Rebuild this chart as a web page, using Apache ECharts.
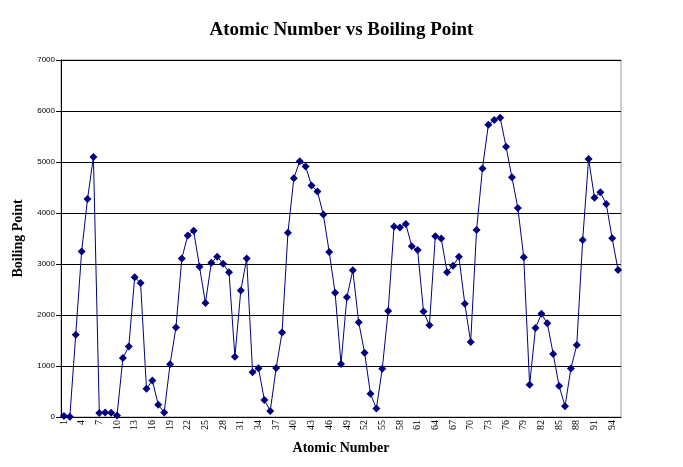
<!DOCTYPE html>
<html><head><meta charset="utf-8">
<script src="https://cdn.jsdelivr.net/npm/echarts@6/dist/echarts.min.js"></script>
<style>html,body{margin:0;padding:0;background:#fff}#c{width:683px;height:467px}</style>
</head><body><div id="c"></div>
<script>
const atomicNumbers = Array.from({length:95},(_,i)=>String(i+1));
const boilingPoints = [20,4,1615,3243,4273,5100,77,90,85,27,1156,1380,2740,2628,553,718,239,87,1032,1757,
3109,3560,3650,2945,2235,3023,3143,3005,2840,1180,2478,3107,876,958,332,120,961,1655,3611,4682,
5017,4912,4538,4423,3970,3237,2436,1040,2350,2876,1860,1261,457,166,944,2078,3737,3715,3785,3347,
3273,2067,1800,3545,3500,2840,2968,3140,2223,1469,3668,4875,5730,5825,5870,5300,4700,4100,3130,630,
1746,2023,1837,1235,610,211,950,1413,3470,5060,4300,4407,4175,3505,2880];
const yTicks = [0,1000,2000,3000,4000,5000,6000,7000];
const chart = echarts.init(document.getElementById('c'));
chart.setOption({
  animation:false,
  title:{text:'Atomic Number vs Boiling Point',left:'center',top:16,
    textStyle:{fontFamily:'Liberation Serif',fontSize:19,fontWeight:'bold',color:'#000'}},
  grid:{left:61,right:62,top:60,bottom:50,show:true,borderColor:'#999',borderWidth:1},
  xAxis:{type:'category',data:atomicNumbers,boundaryGap:true,
    name:'Atomic Number',nameLocation:'middle',nameGap:24,
    nameTextStyle:{fontFamily:'Liberation Serif',fontSize:14,fontWeight:'bold',color:'#000'},
    axisLine:{lineStyle:{color:'#000'}},
    axisTick:{interval:2,lineStyle:{color:'#000'}},
    axisLabel:{interval:2,rotate:90,fontFamily:'Liberation Serif',fontSize:10,color:'#000',margin:3}},
  yAxis:{type:'value',min:0,max:7000,interval:1000,
    name:'Boiling Point',nameLocation:'middle',nameGap:36,
    nameTextStyle:{fontFamily:'Liberation Serif',fontSize:14,fontWeight:'bold',color:'#000'},
    axisLine:{show:true,lineStyle:{color:'#000'}},
    axisTick:{show:true,lineStyle:{color:'#000'}},
    axisLabel:{fontFamily:'Liberation Sans',fontSize:8,color:'#000',margin:6,
      formatter:v=>yTicks.includes(v)?String(v):''},
    splitLine:{lineStyle:{color:'#000',width:1}}},
  series:[{type:'line',data:boilingPoints,symbol:'diamond',symbolSize:8,showAllSymbol:true,
    lineStyle:{color:'#000080',width:1},itemStyle:{color:'#000080'}}]
});
</script></body></html>
